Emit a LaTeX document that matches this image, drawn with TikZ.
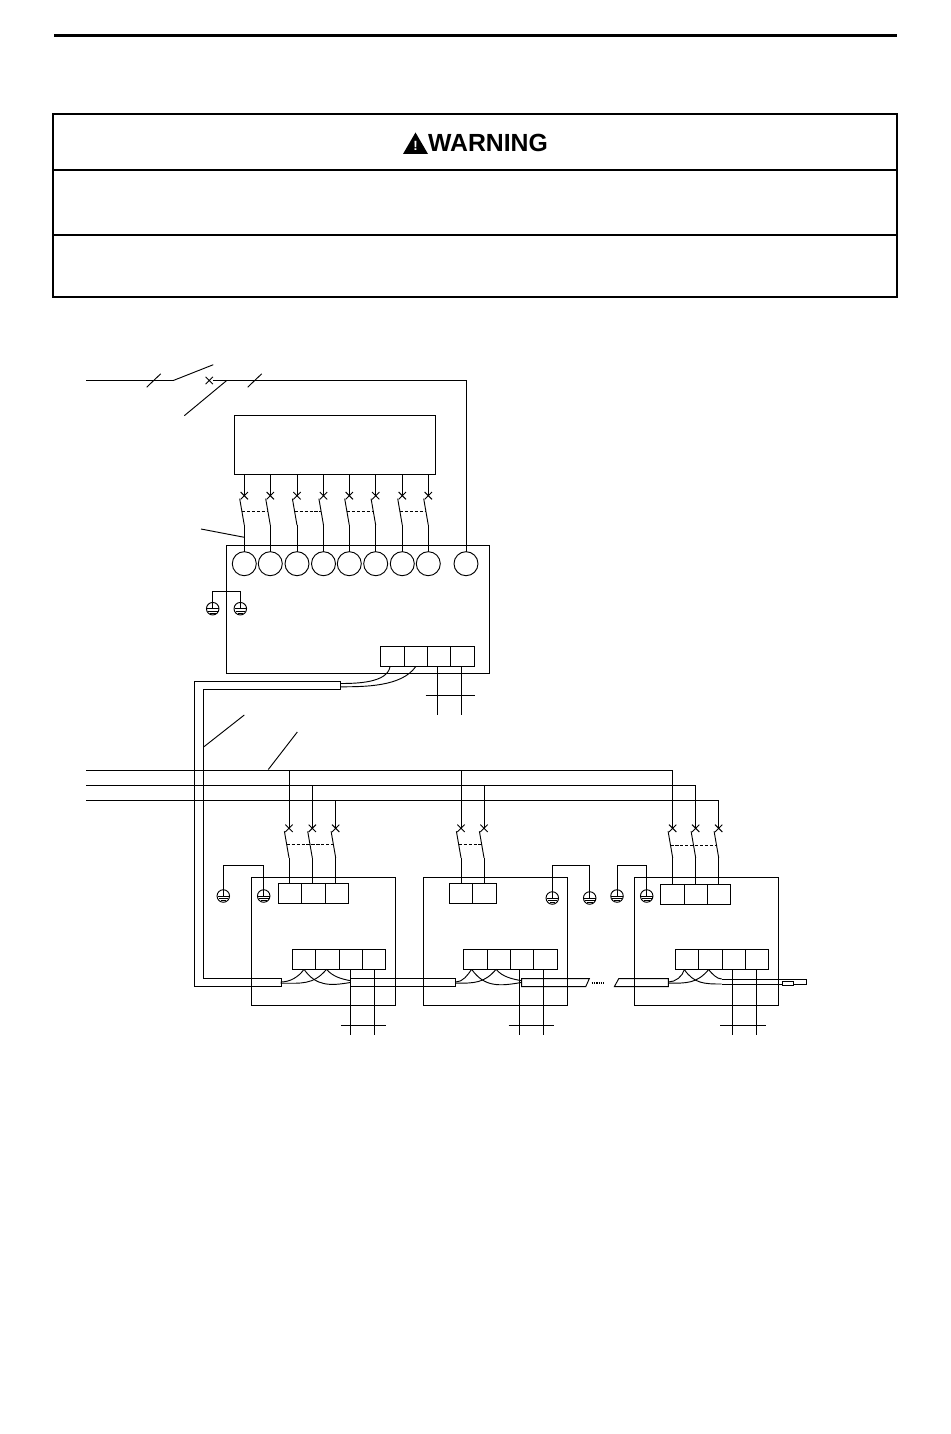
\documentclass[tikz,border=0pt]{standalone}
\usepackage{fontspec}
\setmainfont{Liberation Sans}
\usetikzlibrary{shapes.misc, positioning}

\begin{document}
\begin{tikzpicture}[
    x=0.75pt, y=-0.75pt, line width=0.7pt,
    unit/.style 2 args={rectangle, draw, outer sep=0pt, inner sep=0pt, minimum width=#1, minimum height=#2},
    cell/.style={unit={17.5pt}{15pt}},
    lamp/.style={circle, draw, outer sep=0pt, inner sep=0pt, minimum size=18pt},
    xmark/.style={cross out, draw, outer sep=0pt, inner sep=0pt, minimum size=5.5pt},
    linkage/.style={dash pattern=on 2.4pt off 1.3pt},
    breaker/.pic={
        \node[xmark] (-x) at (0,0) {};
        \draw (-4.6,3) -- (0,29.5) coordinate (-bot) coordinate[pos=.5] (-mid);
    },
    earth/.pic={
        \node[circle, draw, outer sep=0pt, inner sep=0pt, minimum size=9.4pt] (-g) at (0,0) {};
        \draw (0,-6.3) -- (0,0);
        \draw (-5.8,0) -- (5.8,0);
        \draw (-4.8,2.4) -- (4.8,2.4);
        \draw (-2.8,4.4) -- (2.8,4.4);
    },
    slash/.pic={\draw (-7,6.7) -- (7,-6.7);}
]
\useasboundingbox (0,0) rectangle (950,1434);

\coordinate (ruleL) at (54,35.5);
\coordinate (ruleR) at (897,35.5);
\draw[line width=2.6pt] (ruleL) -- (ruleR);

\node[unit={633pt}{137.25pt}, line width=1.5pt] (warnbox) at (475,205.5) {};
\draw[line width=1.5pt] (warnbox.west |- 0,170) -- (warnbox.east |- 0,170);
\draw[line width=1.5pt] (warnbox.west |- 0,234.5) -- (warnbox.east |- 0,234.5);
\node[font=\fontsize{18.6pt}{20pt}\selectfont\bfseries, inner sep=0pt] (warntext) at (488,143) {WARNING};
\fill (403,154) -- (415.5,132.5) -- (428,154) -- cycle;
\node[font=\fontsize{10pt}{10pt}\selectfont\bfseries, text=white, inner sep=0pt] (warnmark) at (415.5,146) {!};

\coordinate (feed) at (86,380.5);
\coordinate (hinge) at (173.3,380.5);
\coordinate (bladeEnd) at (213.3,364.7);
\coordinate (tailA) at (184.3,415.7);
\coordinate (tailB) at (226.7,380.5);
\node[xmark] (qm) at (209.3,380.5) {};
\pic at (153.7,380.5) {slash};
\pic at (254.7,380.5) {slash};
\draw (feed) -- (hinge) -- (bladeEnd);
\draw (tailA) -- (tailB);

\node[unit={150.75pt}{44.25pt}] (panel) at (335.2,445.2) {};
\node[unit={197.25pt}{96pt}] (hub) at (357.8,609.3) {};

\node[lamp] (c1) at (244.3,563.7) {};
\node[lamp] (c2) at (270.3,563.7) {};
\node[lamp] (c3) at (297,563.7) {};
\node[lamp] (c4) at (323.5,563.7) {};
\node[lamp] (c5) at (349.3,563.7) {};
\node[lamp] (c6) at (375.7,563.7) {};
\node[lamp] (c7) at (402.3,563.7) {};
\node[lamp] (c8) at (428.3,563.7) {};
\node[lamp] (c9) at (466,563.7) {};
\draw (qm) -- (c9.north |- qm) -- (c9.north);

\pic (q1) at (244.3,495.7) {breaker};
\pic (q2) at (270.3,495.7) {breaker};
\pic (q3) at (297,495.7) {breaker};
\pic (q4) at (323.5,495.7) {breaker};
\pic (q5) at (349.3,495.7) {breaker};
\pic (q6) at (375.7,495.7) {breaker};
\pic (q7) at (402.3,495.7) {breaker};
\pic (q8) at (428.3,495.7) {breaker};

\draw (panel.south -| q1-x) -- (q1-x.center);
\draw (panel.south -| q2-x) -- (q2-x.center);
\draw (panel.south -| q3-x) -- (q3-x.center);
\draw (panel.south -| q4-x) -- (q4-x.center);
\draw (panel.south -| q5-x) -- (q5-x.center);
\draw (panel.south -| q6-x) -- (q6-x.center);
\draw (panel.south -| q7-x) -- (q7-x.center);
\draw (panel.south -| q8-x) -- (q8-x.center);
\draw (q1-bot) -- (c1.north);
\draw (q2-bot) -- (c2.north);
\draw (q3-bot) -- (c3.north);
\draw (q4-bot) -- (c4.north);
\draw (q5-bot) -- (c5.north);
\draw (q6-bot) -- (c6.north);
\draw (q7-bot) -- (c7.north);
\draw (q8-bot) -- (c8.north);
\draw[linkage] (q1-mid) -- (q2-mid);
\draw[linkage] (q3-mid) -- (q4-mid);
\draw[linkage] (q5-mid) -- (q6-mid);
\draw[linkage] (q7-mid) -- (q8-mid);
\coordinate (lead1) at (201,529);
\draw (lead1) -- (q1-bot |- 0,537.3);

\pic (g1) at (212.7,608.7) {earth};
\pic (g2) at (240.3,608.7) {earth};
\draw (g1-g.north) -- ++(0,-11) -| (g2-g.north);

\node[cell] (ha) at (392.3,656.7) {};
\node[cell, right=0pt of ha] (hb) {};
\node[cell, right=0pt of hb] (hc) {};
\node[cell, right=0pt of hc] (hd) {};
\draw ([xshift=-1.5pt]hc.south) -- ++(0,48) coordinate[pos=.604] (hcx);
\draw ([xshift=-.7pt]hd.south) -- ++(0,48);
\draw (hcx) ++(-11.4,0) -- ++(49.7,0);

\draw (340.3,681.7) -- (194.7,681.7) -- (194.7,986.7) -- (281,986.7) -- (281,978.7) -- (203.7,978.7) -- (203.7,689.7) -- (340.3,689.7) -- cycle;
\coordinate (cblA) at (340.3,683.5);
\coordinate (cblB) at (340.3,686.8);
\draw (cblA) to[out=0, in=-100, looseness=.8] ([xshift=-1.7pt]ha.south);
\draw (cblB) to[out=0, in=-125, looseness=.8] (hb.south);

\coordinate (lead2) at (204,746.7);
\coordinate (lead2e) at (244.3,715);
\coordinate (lead3) at (268.3,769.5);
\coordinate (lead3e) at (297.3,732);
\draw (lead2) -- (lead2e);
\draw (lead3) -- (lead3e);

\coordinate (bus1) at (86,770.3);
\coordinate (bus2) at (86,785);
\coordinate (bus3) at (86,800.3);

\node[unit={108pt}{95.5pt}] (dev1) at (323.7,941.3) {};
\node[unit={108pt}{95.5pt}] (dev2) at (495,941.3) {};
\node[unit={108pt}{95.5pt}] (dev3) at (706.5,941.3) {};

\pic (qa) at (289,828.3) {breaker};
\pic (qb) at (312.3,828.3) {breaker};
\pic (qc) at (335.7,828.3) {breaker};
\pic (qd) at (461,828.3) {breaker};
\pic (qe) at (484,828.3) {breaker};
\pic (qf) at (672.7,828.3) {breaker};
\pic (qg) at (695.7,828.3) {breaker};
\pic (qh) at (718.7,828.3) {breaker};

\draw (bus1) -| (qf-x.center);
\draw (bus2) -| (qg-x.center);
\draw (bus3) -| (qh-x.center);
\draw (qa-x.center) -- (qa-x |- bus1);
\draw (qb-x.center) -- (qb-x |- bus2);
\draw (qc-x.center) -- (qc-x |- bus3);
\draw (qd-x.center) -- (qd-x |- bus1);
\draw (qe-x.center) -- (qe-x |- bus2);
\draw[linkage] (qa-mid) -- (qb-mid) -- (qc-mid);
\draw[linkage] (qd-mid) -- (qe-mid);
\draw[linkage] ([yshift=-1pt]qf-mid) -- ([yshift=-1pt]qg-mid) -- ([yshift=-1pt]qh-mid);

\node[cell] (ta) at (290,893.7) {};
\node[cell, right=0pt of ta] (tb) {};
\node[cell, right=0pt of tb] (tc) {};
\node[cell] (td) at (461,893.7) {};
\node[cell, right=0pt of td] (te) {};
\node[cell] (tf) at (672.4,894) {};
\node[cell, right=0pt of tf] (tg) {};
\node[cell, right=0pt of tg] (th) {};

\draw (qa-bot) -- (qa-bot |- ta.north);
\draw (qb-bot) -- (qb-bot |- tb.north);
\draw (qc-bot) -- (qc-bot |- tc.north);
\draw (qd-bot) -- (qd-bot |- td.north);
\draw (qe-bot) -- (qe-bot |- te.north);
\draw (qf-bot) -- (qf-bot |- tf.north);
\draw (qg-bot) -- (qg-bot |- tg.north);
\draw (qh-bot) -- (qh-bot |- th.north);

\pic (g3) at (223.3,896) {earth};
\pic (g4) at (263.7,896) {earth};
\draw (g3-g.north) -- ++(0,-24.7) -| (g4-g.north);
\pic (g5) at (552.3,898) {earth};
\pic (g6) at (589.7,898) {earth};
\draw (g5-g.north) -- ++(0,-26.7) -| (g6-g.north);
\pic (g7) at (617,896) {earth};
\pic (g8) at (646.7,896) {earth};
\draw (g7-g.north) -- ++(0,-24.7) -| (g8-g.north);

\node[cell] (ba) at (304,959.3) {};
\node[cell, right=0pt of ba] (bb) {};
\node[cell, right=0pt of bb] (bc) {};
\node[cell, right=0pt of bc] (bd) {};
\node[cell] (be) at (475.4,959.3) {};
\node[cell, right=0pt of be] (bf) {};
\node[cell, right=0pt of bf] (bg) {};
\node[cell, right=0pt of bg] (bh) {};
\node[cell] (bi) at (687,959.6) {};
\node[cell, right=0pt of bi] (bj) {};
\node[cell, right=0pt of bj] (bk) {};
\node[cell, right=0pt of bk] (bl) {};

\draw (bc.south) -- ++(0,65.7) coordinate[pos=.852] (bcx);
\draw (bd.south) -- ++(0,65.7);
\draw (bcx) ++(-9.7,0) -- ++(45,0);
\draw ([xshift=-2pt]bg.south) -- ++(0,65.7) coordinate[pos=.852] (bgx);
\draw ([xshift=-1.5pt]bh.south) -- ++(0,65.7);
\draw (bgx) ++(-10.7,0) -- ++(45.7,0);
\draw ([xshift=-1.2pt]bk.south) -- ++(0,65.7) coordinate[pos=.852] (bkx);
\draw ([xshift=-.5pt]bl.south) -- ++(0,65.7);
\draw (bkx) ++(-12,0) -- ++(46,0);

\draw (350.7,978.7) rectangle (455.7,986.7);
\draw (521.7,978.7) -- (589.3,978.7) -- (585.7,986.7) -- (521.7,986.7) -- cycle;
\draw (618.7,978.7) -- (668.3,978.7) -- (668.3,986.7) -- (614.3,986.7) -- cycle;
\draw (721.7,979) -- (806.7,979) -- (806.7,984) -- (721.7,984);
\node[unit={8.2pt}{2.6pt}, fill=white] (endres) at (788.2,983.4) {};
\coordinate (gapL) at (591.7,983);
\coordinate (gapR) at (604.3,983);
\draw[line width=1pt, dash pattern=on 1pt off .7pt] (gapL) -- (gapR);

\coordinate (endA1) at (280.7,982);
\coordinate (endA2) at (280.7,983.2);
\coordinate (endA3) at (350.7,980.7);
\coordinate (endA4) at (350.7,982.4);
\draw (endA1) to[out=0, in=-125, looseness=.9] (ba.south);
\draw (endA2) to[out=0, in=-130, looseness=1.1] ([xshift=-.6pt]bb.south);
\draw (endA3) to[out=170, in=-50, looseness=.9] ([xshift=-.6pt]bb.south);
\draw (endA4) to[out=190, in=-55, looseness=1.1] (ba.south);

\coordinate (endB1) at (455.7,982);
\coordinate (endB2) at (455.7,983.2);
\coordinate (endB3) at (521.7,980.7);
\coordinate (endB4) at (521.7,982.4);
\draw (endB1) to[out=0, in=-125, looseness=.9] ([xshift=-2.8pt]be.south);
\draw (endB2) to[out=0, in=-130, looseness=1.1] ([xshift=-2pt]bf.south);
\draw (endB3) to[out=170, in=-50, looseness=.9] ([xshift=-2pt]bf.south);
\draw (endB4) to[out=190, in=-55, looseness=1.1] ([xshift=-2.8pt]be.south);

\coordinate (endC1) at (668.3,982);
\coordinate (endC2) at (668.3,983.2);
\coordinate (endC3) at (721.7,979);
\coordinate (endC4) at (721.7,984);
\draw (endC1) to[out=0, in=-105, looseness=.9] ([xshift=-2pt]bi.south);
\draw (endC2) to[out=0, in=-130, looseness=1.1] ([xshift=-1.3pt]bj.south);
\draw (endC3) to[out=180, in=-50, looseness=.8] ([xshift=-1.3pt]bj.south);
\draw (endC4) to[out=180, in=-55, looseness=1.1] ([xshift=-2pt]bi.south);

\end{tikzpicture}
\end{document}
